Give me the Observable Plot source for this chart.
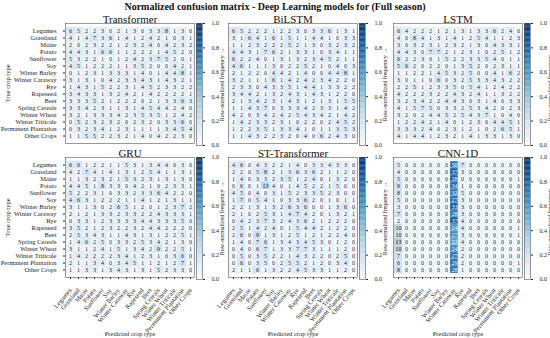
<!DOCTYPE html>
<html><head><meta charset="utf-8">
<script src="https://cdn.jsdelivr.net/npm/d3@7"></script>
<script src="https://cdn.jsdelivr.net/npm/@observablehq/plot@0.6"></script>
<style>
body{margin:0;background:#fff;}
#wrap{position:relative;width:550px;height:338px;overflow:hidden;font-family:"Liberation Serif",serif;background:#fff;}
#title{position:absolute;left:0;top:1px;width:550px;text-align:center;font-weight:bold;font-size:10px;color:#111;}
.p{position:absolute;}
</style></head><body>
<div id="wrap"><div id="title">Normalized confusion matrix - Deep Learning models for (Full season)</div></div>
<script>
const crops = ["Legumes","Grassland","Maize","Potato","Sunflower","Soy","Winter Barley","Winter Caraway","Rye","Rapeseed","Beet","Spring Cereals","Winter Wheat","Winter Triticale","Permanent Plantation","Other Crops"];
const modelNames = ["Transformer","BiLSTM","LSTM","GRU","ST-Transformer","CNN-1D"];
const colorbarTicks = [0,0.2,0.4,0.6,0.8,1.0];

const transformer = [
[6,5,2,2,3,0,2,1,3,0,3,3,8,1,3,0],
[4,1,4,7,3,6,1,4,1,2,4,2,1,0,3,1],
[2,0,2,3,2,2,1,2,3,2,4,0,4,2,3,2],
[4,4,3,1,6,6,1,1,2,2,2,1,4,5,2,0],
[5,3,2,2,1,0,1,2,4,2,3,7,5,2,0,1],
[4,5,1,2,2,2,1,1,3,5,2,0,0,4,2,1],
[0,1,2,3,1,3,3,3,1,4,0,1,4,4,8,1],
[3,1,3,1,0,4,2,3,3,4,3,1,4,3,2,1],
[1,4,3,1,5,2,2,3,1,4,5,2,3,3,2,2],
[3,4,3,3,1,3,2,4,2,1,4,2,2,2,2,1],
[3,3,3,5,2,1,2,2,2,0,2,1,3,3,6,3],
[3,3,4,2,3,1,1,3,1,4,5,4,4,2,4,0],
[3,2,1,3,3,3,4,2,3,5,3,5,1,2,4,2],
[0,5,2,3,2,3,2,0,2,3,2,0,3,3,6,0],
[0,3,2,3,4,1,2,3,1,1,1,1,3,4,5,4],
[1,1,5,5,2,2,3,2,1,4,0,4,2,2,3,0]];

const bilstm = [
[6,5,2,2,2,1,2,2,3,0,3,3,6,1,3,1],
[3,1,6,4,1,6,1,5,1,1,4,4,1,0,3,3],
[1,1,2,3,2,2,2,5,2,1,3,0,3,2,3,2],
[4,4,3,1,7,6,2,1,3,3,1,0,3,4,1,1],
[6,2,2,4,0,1,3,1,3,2,3,4,5,2,1,1],
[4,6,1,1,1,3,0,2,2,5,2,1,0,4,0,3],
[2,1,2,2,0,4,4,2,1,4,0,0,4,4,8,1],
[3,2,1,1,1,6,1,4,2,4,2,3,4,2,2,0],
[2,3,3,0,4,3,3,5,1,4,4,1,3,3,2,2],
[3,4,4,2,1,3,2,4,3,1,4,3,1,2,2,0],
[2,1,3,4,2,3,1,4,3,1,2,1,3,1,5,5],
[1,1,4,3,7,0,3,3,3,4,2,3,3,1,4,2],
[4,2,0,3,4,2,4,2,5,4,3,4,2,1,4,2],
[1,4,2,3,3,2,3,1,0,2,2,0,2,4,5,2],
[1,2,2,3,5,1,3,3,4,1,0,1,1,3,5,3],
[1,1,4,3,2,2,3,2,0,4,0,6,2,4,3,0]];

const lstm = [
[6,4,2,2,2,1,2,1,3,1,3,3,6,2,4,0],
[4,0,8,4,1,3,1,4,1,2,5,4,1,1,2,3],
[3,0,3,2,3,1,2,3,2,1,3,0,4,3,3,1],
[4,4,3,0,7,7,2,1,2,3,1,0,2,5,1,2],
[6,2,2,3,0,1,5,2,2,3,3,5,4,0,1,1],
[5,6,2,0,2,2,0,1,3,5,2,0,2,3,1,1],
[1,1,2,2,1,4,5,3,2,5,0,0,4,1,6,2],
[3,0,1,1,0,6,0,3,2,5,3,3,4,3,2,2],
[2,2,5,1,2,3,3,5,0,5,4,1,2,4,2,2],
[4,2,2,2,3,2,2,4,3,2,4,1,1,3,2,2],
[3,2,3,4,2,2,4,4,3,0,3,1,4,0,3,3],
[4,1,5,7,5,0,3,3,2,5,3,4,2,0,2,3],
[3,2,0,2,4,4,5,2,5,4,3,7,1,0,4,0],
[1,2,2,4,2,1,4,0,1,2,3,0,4,4,5,1],
[3,3,3,2,4,0,2,3,1,2,1,0,2,6,5,1],
[4,1,4,4,1,2,3,2,1,4,1,3,3,1,3,0]];

const gru = [
[6,6,1,2,2,1,1,5,3,1,3,4,4,0,3,0],
[4,2,7,4,1,4,1,3,1,2,5,4,1,1,3,1],
[1,1,3,2,3,2,1,5,3,2,3,1,3,1,3,0],
[4,4,5,1,8,3,3,0,4,2,1,0,2,3,3,1],
[5,2,2,3,1,0,3,3,2,3,3,6,4,2,2,0],
[4,6,3,1,2,2,2,1,1,4,1,2,1,3,1,1],
[3,1,1,3,0,2,6,5,1,2,0,1,2,3,7,2],
[2,1,2,1,3,3,2,3,3,2,2,4,3,3,3,1],
[0,3,3,1,2,3,3,3,3,4,4,3,3,3,5,0],
[3,5,2,1,2,3,2,2,3,2,4,4,2,2,2,0],
[2,5,3,4,3,1,1,4,3,1,3,1,2,2,5,1],
[1,4,6,2,5,0,3,3,2,5,3,4,2,1,3,0],
[3,1,1,2,4,1,5,1,3,4,2,9,2,2,5,1],
[1,4,2,2,2,2,3,4,1,2,3,1,0,3,6,0],
[2,1,1,3,4,0,3,4,5,1,1,2,1,2,7,1],
[1,1,3,3,1,3,4,3,1,3,1,5,2,3,3,0]];

const stTransformer = [
[4,6,0,4,3,2,2,1,4,0,3,3,4,3,3,0],
[2,2,0,5,8,2,1,3,6,3,6,2,1,1,2,0],
[1,4,0,3,3,2,3,5,1,2,4,0,1,3,2,0],
[0,6,0,1,13,4,0,1,4,5,2,2,1,5,0,0],
[4,5,0,4,0,3,1,5,2,3,3,5,2,3,0,0],
[1,7,0,5,4,1,0,3,3,6,2,0,1,0,1,1],
[2,2,1,3,1,3,2,6,3,6,0,0,1,3,6,0],
[2,1,0,2,5,3,1,4,7,4,2,0,1,3,2,1],
[0,4,2,3,7,3,2,4,3,6,2,1,2,2,2,0],
[2,5,1,4,2,4,0,1,5,4,4,2,1,2,2,0],
[2,6,0,9,1,3,1,2,5,1,2,1,2,2,4,0],
[1,4,0,7,6,1,3,4,3,4,5,3,0,1,2,0],
[0,4,0,6,7,1,3,3,7,7,3,1,1,1,2,0],
[0,5,0,3,5,2,2,1,4,3,2,2,0,2,5,0],
[0,6,0,3,5,0,2,5,5,2,1,2,0,3,4,0],
[2,1,1,6,1,3,2,2,4,5,3,3,1,1,2,0]];

const cnn1d = [
[5,0,0,0,0,0,0,30,7,0,0,0,0,0,0,0],
[4,0,0,0,0,0,0,37,3,0,0,0,0,0,0,0],
[5,0,0,0,0,0,0,28,0,0,0,0,0,0,0,1],
[9,0,0,0,0,0,0,34,1,0,0,0,0,0,0,0],
[8,0,0,0,0,0,0,32,5,0,0,0,0,0,0,0],
[5,0,0,0,0,0,0,27,3,0,0,0,0,0,0,0],
[3,0,0,0,0,0,0,33,3,0,0,0,0,0,0,0],
[7,0,0,0,0,0,0,28,3,0,0,0,0,0,0,0],
[2,0,0,0,0,0,0,37,4,0,0,0,0,0,0,0],
[10,0,0,0,0,0,0,24,4,0,0,0,0,0,0,1],
[10,0,0,0,0,0,0,27,3,0,0,0,0,0,0,1],
[13,0,0,0,0,0,0,22,4,0,0,0,0,0,0,0],
[10,0,0,0,0,0,0,24,2,0,0,0,0,0,0,0],
[7,0,0,0,0,0,0,27,2,0,0,0,0,0,0,0],
[6,0,0,0,0,0,0,29,2,0,0,0,0,0,0,1],
[8,0,0,0,0,0,0,28,1,0,0,0,0,0,0,0]];

const matrices = [transformer, bilstm, lstm, gru, stTransformer, cnn1d];

const wrap = document.getElementById("wrap");
const colX = [65, 228, 393], rowY = [23, 157], W = 129, H = 120;
const ramp = d3.range(0, 1, 0.01);
const font = "'Liberation Serif', 'Times New Roman', serif";

matrices.forEach((m, i) => {
  const c = i % 3, r = Math.floor(i / 3);
  const isLeft = c === 0, isBottom = r === 1;
  const data = [];
  m.forEach((row, ri) => {
    const s = d3.sum(row);
    row.forEach((v, ci) => data.push({t: crops[ri], p: crops[ci], v, f: s ? v / s : 0}));
  });
  const mL = isLeft ? 65 : 4, mR = 4, mT = 23, mB = isBottom ? 61 : 4;
  const plot = Plot.plot({
    width: W + mL + mR, height: H + mT + mB,
    marginLeft: mL, marginRight: mR, marginTop: mT, marginBottom: mB,
    style: {fontFamily: font, fontSize: "6.5px", background: "transparent", overflow: "visible", color: "#222"},
    x: {domain: crops, padding: 0, axis: isBottom ? "bottom" : null, tickRotate: -50, tickSize: 2,
        label: isBottom ? "Predicted crop type" : null, labelAnchor: "center", labelOffset: 58},
    y: {domain: crops, padding: 0, axis: isLeft ? "left" : null, tickSize: 2,
        label: isLeft ? "True crop type" : null, labelAnchor: "center", labelOffset: 60},
    color: {type: "linear", scheme: "blues", domain: [0, 1]},
    marks: [
      Plot.cell(data, {x: "p", y: "t", fill: "f", inset: 0, stroke: "#d5dfea", strokeWidth: 0.4}),
      Plot.text(data.filter(d => d.f <= 0.5), {x: "p", y: "t", text: "v", fill: "#222", fontSize: 6}),
      Plot.text(data.filter(d => d.f > 0.5), {x: "p", y: "t", text: "v", fill: "white", fontSize: 6}),
      Plot.frame({stroke: "#555", strokeWidth: 0.6}),
      Plot.text([modelNames[i]], {frameAnchor: "top", lineAnchor: "bottom", dy: -1, fontSize: 11, fill: "#111"})
    ]
  });
  plot.classList.add("p");
  plot.style.left = (colX[c] - mL) + "px";
  plot.style.top = (rowY[r] - mT) + "px";
  wrap.appendChild(plot);

  const cbW = 6, cbR = 26;
  const cb = Plot.plot({
    width: cbW + cbR, height: H + 2 + 8,
    marginLeft: 0, marginRight: cbR, marginTop: 4, marginBottom: 4,
    style: {fontFamily: font, fontSize: "6px", background: "transparent", overflow: "visible", color: "#222"},
    x: {axis: null, domain: [0, 1]},
    y: {domain: [0, 1], axis: "right", ticks: colorbarTicks, tickFormat: d => d.toFixed(1), tickSize: 2,
        label: "Row-normalized frequency", labelAnchor: "center", labelOffset: 21},
    color: {type: "linear", scheme: "blues", domain: [0, 1]},
    marks: [
      Plot.rect(ramp, {x1: 0, x2: 1, y1: d => d, y2: d => Math.min(1, d + 0.011), fill: d => d + 0.005}),
      Plot.frame({stroke: "#555", strokeWidth: 0.6})
    ]
  });
  cb.classList.add("p");
  cb.style.left = (colX[c] + W + 2) + "px";
  cb.style.top = (rowY[r] - 4) + "px";
  wrap.appendChild(cb);
});
</script>
</body></html>
